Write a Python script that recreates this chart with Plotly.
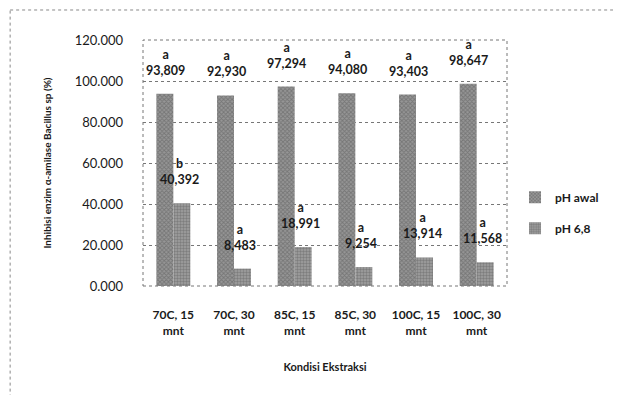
import plotly.graph_objects as go

categories = ["70C, 15<br>mnt", "70C, 30<br>mnt", "85C, 15<br>mnt", "85C, 30<br>mnt", "100C, 15<br>mnt", "100C, 30<br>mnt"]
ph_awal = [93.809, 92.930, 97.294, 94.080, 93.403, 98.647]
ph_68 = [40.392, 8.483, 18.991, 9.254, 13.914, 11.568]
letters_awal = ["a", "a", "a", "a", "a", "a"]
letters_68 = ["b", "a", "a", "a", "a", "a"]
y_ticks = [0, 20, 40, 60, 80, 100, 120]

FONT = "Lato"
TXT = "#1a1a1a"

def fmt(v):
    return f"{v:.3f}".replace(".", ",")

fig = go.Figure()
fig.add_trace(go.Bar(
    x=categories, y=ph_awal, name="<b>pH awal</b>", legendgroup="g1",
    marker=dict(color="#8a8a8a", line=dict(width=0),
                pattern=dict(shape="x", size=3, solidity=0.5, fgcolor="#555555", bgcolor="#969696")),
))
fig.add_trace(go.Bar(
    x=categories, y=ph_68, name="<b>pH 6,8</b>", legendgroup="g2",
    marker=dict(color="#9a9a9a", line=dict(width=0),
                pattern=dict(shape=".", size=3, solidity=0.5, fgcolor="#5a5a5a", bgcolor="#a0a0a0")),
))

annotations = []
for c, v, l in zip(categories, ph_awal, letters_awal):
    annotations.append(dict(x=c, y=v, xref="x", yref="y", text=f"<b>{l}<br>{fmt(v)}</b>",
                            showarrow=False, yanchor="bottom", xshift=-8, yshift=14,
                            font=dict(family=FONT, size=12.5, color=TXT)))
for c, v, l in zip(categories, ph_68, letters_68):
    annotations.append(dict(x=c, y=v, xref="x", yref="y", text=f"<b>{l}<br>{fmt(v)}</b>",
                            showarrow=False, yanchor="bottom", xshift=6, yshift=14,
                            font=dict(family=FONT, size=12.5, color=TXT)))

fig.update_layout(
    width=605, height=387,
    margin=dict(l=135, r=106, t=32, b=109, autoexpand=False),
    paper_bgcolor="white", plot_bgcolor="white",
    barmode="group", bargap=0.44, bargroupgap=0,
    font=dict(family=FONT, color=TXT),
    annotations=annotations,
    legend=dict(x=1.022, y=0.42, xanchor="left", yanchor="top",
                font=dict(family=FONT, size=12, color=TXT),
                tracegroupgap=12, traceorder="grouped",
                itemwidth=30, bgcolor="rgba(0,0,0,0)"),
    shapes=[
        dict(type="rect", xref="paper", yref="paper", x0=0, x1=1, y0=0, y1=1,
             line=dict(color="#777", width=1, dash="dot"), layer="above"),
        dict(type="line", xref="paper", yref="paper", x0=-0.365, x1=1.35, y0=1.122, y1=1.122,
             line=dict(color="#888", width=1, dash="dot")),
        dict(type="line", xref="paper", yref="paper", x0=-0.365, x1=-0.365, y0=-0.6, y1=1.122,
             line=dict(color="#888", width=1, dash="dot")),
    ],
)
fig.update_yaxes(
    range=[0, 120], tickvals=y_ticks, tickformat=".3f",
    showgrid=True, gridcolor="#777", griddash="dot", gridwidth=1,
    zeroline=False, showline=False, ticks="", automargin=False,
    ticklabelstandoff=19, tickprefix="<b>", ticksuffix="</b>",
    tickfont=dict(family=FONT, size=13, color=TXT),
    title=dict(text="<b>Inhibisi enzim α-amilase Bacillus sp (%)</b>",
               font=dict(family=FONT, size=10, color=TXT), standoff=21),
)
fig.update_xaxes(
    showgrid=False, showline=False, ticks="", ticklabelstandoff=20, automargin=False,
    tickprefix="<b>", ticksuffix="</b>",
    tickfont=dict(family=FONT, size=12, color=TXT),
    title=dict(text="<b>Kondisi Ekstraksi</b>",
               font=dict(family=FONT, size=11, color=TXT), standoff=26),
)

fig.write_html("out.html")
